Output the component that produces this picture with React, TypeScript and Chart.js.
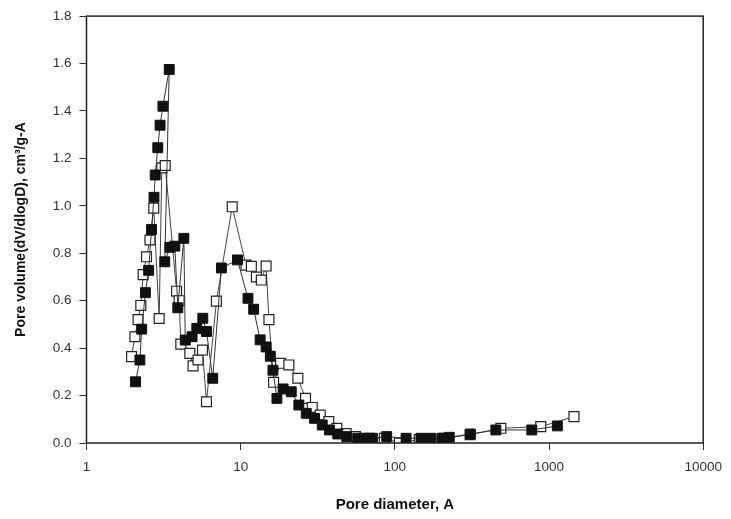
import React, { useEffect, useRef } from 'react';
import { Chart, registerables } from 'chart.js';

Chart.register(...registerables);

// Tick labels
const xTickValues = [1, 10, 100, 1000, 10000];
const xTickLabels = ['1', '10', '100', '1000', '10000'];
const yTickLabels = ['0.0', '0.2', '0.4', '0.6', '0.8', '1.0', '1.2', '1.4', '1.6', '1.8'];

// Filled squares series (pore diameter in A, pore volume)
const filledDiameters = [
  2.08, 2.22, 2.28, 2.41, 2.53, 2.64, 2.74, 2.79, 2.9, 3.0, 3.13, 3.44,
  3.22, 3.47, 3.74, 3.91, 4.28, 4.37, 4.84, 5.19, 5.68, 6.0, 6.59, 7.5,
  9.53, 11.15, 12.14, 13.37, 14.62, 15.57, 16.19, 17.18, 18.84, 21.29, 23.84,
  26.62, 30.13, 33.8, 37.68, 42.64, 48.75, 57.44, 62.55, 71.53, 88.5, 118.2,
  147.7, 171.5, 202.1, 225.3, 308.2, 451.9, 772.9, 1132,
];
const filledVolumes = [
  0.258, 0.35, 0.48, 0.634, 0.728, 0.9, 1.036, 1.13, 1.245, 1.34, 1.42, 1.575,
  0.764, 0.825, 0.83, 0.57, 0.863, 0.434, 0.448, 0.483, 0.526, 0.47, 0.273, 0.738,
  0.772, 0.61, 0.564, 0.435, 0.405, 0.366, 0.307, 0.188, 0.228, 0.216, 0.16,
  0.125, 0.104, 0.076, 0.055, 0.038, 0.027, 0.02, 0.02, 0.02, 0.027, 0.02,
  0.02, 0.02, 0.02, 0.024, 0.038, 0.055, 0.055, 0.072,
];

// Open squares series
const openDiameters = [
  1.96, 2.06, 2.16, 2.25, 2.33, 2.45, 2.58, 2.73, 2.96, 3.08, 3.24,
  3.84, 3.99, 4.09, 4.68, 4.91, 5.29, 5.65, 6.0, 6.96, 8.81, 10.82, 11.73,
  12.64, 13.61, 14.62, 15.25, 16.35, 18.15, 20.54, 23.49, 26.34, 29.12, 32.81,
  37.28, 42.02, 48.31, 55.5, 68.4, 85.5, 106.9, 144, 209, 308, 486.9, 883.6, 1451,
];
const openVolumes = [
  0.364, 0.448, 0.52, 0.58, 0.71, 0.785, 0.856, 0.99, 0.525, 1.16, 1.17,
  0.64, 0.6, 0.417, 0.378, 0.325, 0.35, 0.392, 0.174, 0.598, 0.996, 0.75, 0.745,
  0.7, 0.687, 0.746, 0.52, 0.256, 0.336, 0.329, 0.273, 0.188, 0.15, 0.118,
  0.09, 0.062, 0.04, 0.027, 0.02, 0.02, 0.0, 0.015, 0.02, 0.035, 0.062, 0.069, 0.111,
];

const toPoints = (xs: number[], ys: number[]) => xs.map((x, i) => ({ x, y: ys[i] }));

const framePlugin = {
  id: 'frame',
  afterDatasetsDraw(chart: any) {
    const { ctx, chartArea } = chart;
    ctx.save();
    ctx.strokeStyle = '#222';
    ctx.lineWidth = 1.5;
    ctx.strokeRect(chartArea.left, chartArea.top, chartArea.right - chartArea.left, chartArea.bottom - chartArea.top);
    ctx.restore();
  },
};

export default function App() {
  const canvasRef = useRef<HTMLCanvasElement | null>(null);

  useEffect(() => {
    if (!canvasRef.current) return;
    const chart = new Chart(canvasRef.current, {
      type: 'scatter',
      data: {
        datasets: [
          {
            label: 'filled',
            data: toPoints(filledDiameters, filledVolumes),
            showLine: true,
            borderColor: '#333',
            borderWidth: 1,
            pointStyle: 'rect',
            pointRadius: 7,
            pointBackgroundColor: '#111',
            pointBorderColor: '#111',
            pointBorderWidth: 1,
            tension: 0,
            order: 0,
          },
          {
            label: 'open',
            data: toPoints(openDiameters, openVolumes),
            showLine: true,
            borderColor: '#444',
            borderWidth: 1,
            pointStyle: 'rect',
            pointRadius: 7,
            pointBackgroundColor: '#fff',
            pointBorderColor: '#222',
            pointBorderWidth: 1.2,
            tension: 0,
            order: 1,
          },
        ],
      },
      options: {
        animation: false,
        responsive: true,
        maintainAspectRatio: false,
        layout: { padding: { top: 16, right: 27, left: 0, bottom: 0 } },
        plugins: {
          legend: { display: false },
          tooltip: { enabled: false },
        },
        scales: {
          x: {
            type: 'logarithmic',
            min: 1,
            max: 10000,
            afterBuildTicks: (scale: any) => {
              scale.ticks = xTickValues.map((v) => ({ value: v }));
            },
            afterFit: (scale: any) => {
              scale.height = 76;
            },
            border: { display: false },
            grid: {
              display: true,
              drawOnChartArea: false,
              drawTicks: true,
              tickLength: 7,
              color: '#333',
            },
            ticks: {
              autoSkip: false,
              maxRotation: 0,
              padding: 9,
              color: '#333',
              font: { family: 'Liberation Sans, Arial, sans-serif', size: 13.5 },
              callback: (_v: any, i: number) => xTickLabels[i],
            },
            title: {
              display: true,
              text: 'Pore diameter, A',
              color: '#111',
              font: { family: 'Liberation Sans, Arial, sans-serif', size: 15, weight: 'bold' },
              padding: { top: 0, bottom: 5 },
            },
          },
          y: {
            min: 0,
            max: 1.8,
            afterBuildTicks: (scale: any) => {
              scale.ticks = yTickLabels.map((l) => ({ value: parseFloat(l) }));
            },
            afterFit: (scale: any) => {
              scale.width = 86.5;
            },
            border: { display: false },
            grid: {
              display: true,
              drawOnChartArea: false,
              drawTicks: true,
              tickLength: 7,
              color: '#333',
            },
            ticks: {
              autoSkip: false,
              padding: 8,
              color: '#333',
              font: { family: 'Liberation Sans, Arial, sans-serif', size: 13.5 },
              callback: (_v: any, i: number) => yTickLabels[i],
            },
            title: {
              display: true,
              text: 'Pore volume(dV/dlogD), cm³/g-A',
              color: '#111',
              font: { family: 'Liberation Sans, Arial, sans-serif', size: 14, weight: 'bold' },
              padding: { top: 13, bottom: 0 },
            },
          },
        },
      },
      plugins: [framePlugin],
    } as any);
    return () => chart.destroy();
  }, []);

  return (
    <div style={{ position: 'absolute', left: 0, top: 0, width: 731, height: 519, background: '#fff' }}>
      <canvas ref={canvasRef} />
    </div>
  );
}
